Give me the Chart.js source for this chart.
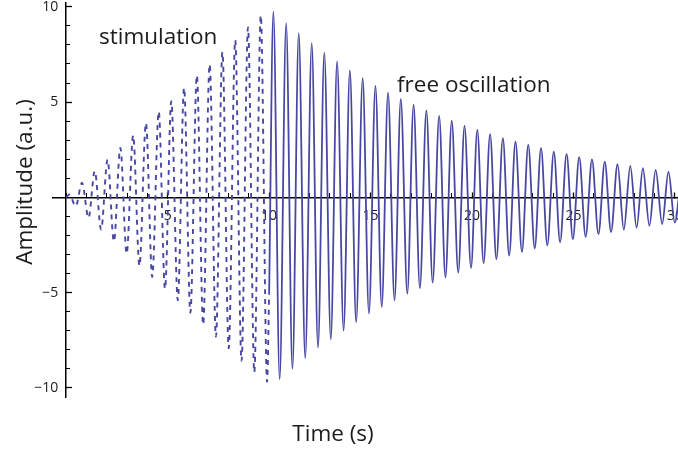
<!DOCTYPE html>
<html>
<head>
<meta charset="utf-8">
<script src="https://cdn.jsdelivr.net/npm/chart.js@4.4.1/dist/chart.umd.min.js"></script>
<style>
html,body{margin:0;padding:0;background:#fff;overflow:hidden}
#wrap{width:678px;height:454px;position:relative}
</style>
</head>
<body>
<div id="wrap"><canvas id="c" width="678" height="454"></canvas></div>
<script>
// ---- data (extremes of the waveform) ----
const stimTimes = [0, 0.16, 0.47, 0.78, 1.10, 1.41, 1.72, 2.04, 2.35, 2.67, 2.98, 3.30, 3.61, 3.93, 4.24, 4.56,
  4.87, 5.18, 5.50, 5.81, 6.12, 6.44, 6.75, 7.07, 7.38, 7.70, 8.01, 8.33, 8.64, 8.96, 9.27, 9.59, 9.90, 10.0];
const stimValues = [0, 0.15, -0.46, 0.77, -1.07, 1.38, -1.69, 1.98, -2.31, 2.60, -2.95, 3.25, -3.58, 3.90, -4.18, 4.50,
  -4.80, 5.05, -5.40, 5.75, -6.05, 6.40, -6.68, 6.98, -7.30, 7.62, -7.92, 8.25, -8.58, 8.92, -9.18, 9.55, -9.68, -5.10];

const freeTimes = [10.0, 10.21, 10.52, 10.84, 11.15, 11.46, 11.78, 12.10, 12.41, 12.72, 13.04, 13.35, 13.67, 13.98,
  14.29, 14.61, 14.92, 15.24, 15.55, 15.86, 16.18, 16.49, 16.81, 17.12, 17.43, 17.75, 18.06, 18.38, 18.69, 19.00,
  19.32, 19.63, 19.95, 20.26, 20.57, 20.89, 21.20, 21.52, 21.83, 22.14, 22.46, 22.77, 23.09, 23.40, 23.71, 24.03,
  24.34, 24.66, 24.97, 25.28, 25.60, 25.91, 26.23, 26.54, 26.85, 27.17, 27.48, 27.80, 28.11, 28.42, 28.74, 29.05,
  29.37, 29.68, 29.99, 30.31];
const freeValues = [-5.10, 9.75, -9.55, 9.14, -9.00, 8.62, -8.44, 8.09, -7.88, 7.60, -7.45, 7.13, -6.99, 6.66,
  -6.55, 6.26, -6.10, 5.85, -5.75, 5.50, -5.40, 5.17, -5.05, 4.86, -4.76, 4.56, -4.47, 4.28, -4.20, 4.03,
  -3.95, 3.75, -3.70, 3.54, -3.45, 3.32, -3.24, 3.11, -3.05, 2.93, -2.86, 2.76, -2.68, 2.58, -2.52, 2.40,
  -2.36, 2.28, -2.20, 2.11, -2.07, 2.00, -1.93, 1.88, -1.82, 1.74, -1.70, 1.65, -1.59, 1.53, -1.49, 1.44,
  -1.40, 1.35, -1.32, 1.27];

const xTickValues = [5, 10, 15, 20, 25, 30];
const yTickValues = [-10, -5, 5, 10];
const xTitle = 'Time (s)';
const yTitle = 'Amplitude (a.u.)';
const labelStim = 'stimulation';
const labelFree = 'free oscillation';

// ---- styling ----
const lineColor = 'rgb(72,72,162)';
const textColor = '#1c1c1c';
const titleFont = '22.5px "Open Sans"';
const tickFont = {family: 'Open Sans', size: 14};

const toPoints = (ts, vs) => ts.map((t, i) => ({x: t, y: vs[i]}));
const fmt = v => (v < 0 ? '\u2212' + Math.abs(v) : String(v));
const noPad = s => { s.paddingLeft = 0; s.paddingRight = 0; s.paddingTop = 0; s.paddingBottom = 0; };

const textPlugin = {
  id: 'texts',
  beforeDraw(chart) {
    // shift y tick labels left of the axis
    const ys = chart.scales.y;
    const items = ys.getLabelItems(chart.chartArea);
    items.forEach(it => { if (!it._shifted) { it.options.translation[0] -= 8; it._shifted = true; } });
  },
  afterDraw(chart) {
    const ctx = chart.ctx;
    ctx.save();
    ctx.fillStyle = textColor;
    ctx.font = titleFont;
    ctx.textBaseline = 'alphabetic';
    ctx.textAlign = 'left';
    ctx.fillText(labelStim, 99, 44);
    ctx.fillText(labelFree, 397, 92);
    ctx.textAlign = 'center';
    ctx.fillText(xTitle, 333, 441);
    ctx.translate(32, 182);
    ctx.rotate(-Math.PI / 2);
    ctx.fillText(yTitle, 0, 0);
    ctx.restore();
  }
};

new Chart(document.getElementById('c'), {
  type: 'line',
  data: {
    datasets: [
      {
        label: labelStim,
        data: toPoints(stimTimes, stimValues),
        borderColor: lineColor,
        borderWidth: 1.9,
        borderDash: [5, 5],
        pointRadius: 0,
        cubicInterpolationMode: 'monotone',
        fill: false
      },
      {
        label: labelFree,
        data: toPoints(freeTimes, freeValues),
        borderColor: lineColor,
        borderWidth: 1.8,
        pointRadius: 0,
        cubicInterpolationMode: 'monotone',
        fill: false
      }
    ]
  },
  options: {
    responsive: false,
    animation: false,
    devicePixelRatio: 1,
    layout: {padding: {left: 53, right: 0, top: 3, bottom: 56.5}},
    plugins: {legend: {display: false}, tooltip: {enabled: false}},
    scales: {
      x: {
        type: 'linear', min: -0.65, max: 30.15,
        position: {y: 0},
        afterBuildTicks: s => { s.ticks = xTickValues.map(v => ({value: v})); },
        afterFit: noPad,
        ticks: {callback: v => fmt(v), font: tickFont, color: textColor, padding: 16, maxRotation: 0, autoSkip: false},
        grid: {display: true, drawOnChartArea: false, drawTicks: true, tickLength: -6, tickColor: '#000', tickWidth: 1.3},
        border: {display: true, color: '#000', width: 1.5}
      },
      x2: {
        type: 'linear', min: -0.65, max: 30.15,
        position: {y: 0},
        ticks: {stepSize: 1, includeBounds: false, callback: () => '', autoSkip: false},
        afterFit: noPad,
        grid: {display: true, drawOnChartArea: false, drawTicks: true, tickLength: -4, tickColor: '#000', tickWidth: 1},
        border: {display: false}
      },
      y: {
        type: 'linear', min: -10.5, max: 10.2,
        position: {x: 0},
        afterBuildTicks: s => { s.ticks = yTickValues.map(v => ({value: v})); },
        afterFit: noPad,
        ticks: {callback: v => fmt(v), font: tickFont, color: textColor, padding: 3, autoSkip: false},
        grid: {display: true, drawOnChartArea: false, drawTicks: true, tickLength: -7, tickColor: '#000', tickWidth: 1.3},
        border: {display: true, color: '#000', width: 1.5}
      },
      y2: {
        type: 'linear', min: -10.5, max: 10.2,
        position: {x: 0},
        ticks: {stepSize: 1, includeBounds: false, callback: () => '', autoSkip: false},
        afterFit: noPad,
        grid: {display: true, drawOnChartArea: false, drawTicks: true, tickLength: -4, tickColor: '#000', tickWidth: 1},
        border: {display: false}
      }
    }
  },
  plugins: [textPlugin]
});
</script>
</body>
</html>
